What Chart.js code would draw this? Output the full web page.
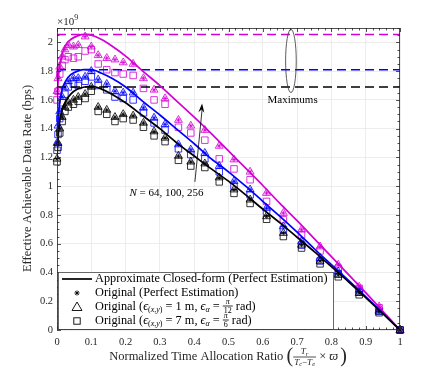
<!DOCTYPE html>
<html>
<head>
<meta charset="utf-8">
<script src="https://cdn.jsdelivr.net/npm/chart.js@4.4.0/dist/chart.umd.min.js"></script>
<style>
  html, body { margin: 0; padding: 0; background: #fff; }
</style>
</head>
<body>
<canvas id="rate" width="443" height="372"></canvas>
<script>
// axis ticks
const xTicks = [0, 0.1, 0.2, 0.3, 0.4, 0.5, 0.6, 0.7, 0.8, 0.9, 1];
const xTickLabels = ['0', '0.1', '0.2', '0.3', '0.4', '0.5', '0.6', '0.7', '0.8', '0.9', '1'];
const yTicks = [0, 0.2, 0.4, 0.6, 0.8, 1, 1.2, 1.4, 1.6, 1.8, 2];
const yTickLabels = ['0', '0.2', '0.4', '0.6', '0.8', '1', '1.2', '1.4', '1.6', '1.8', '2'];

// approximate closed-form curves (x 1e9 bps)
const curveX = [0, 0.003, 0.008, 0.015, 0.025, 0.04, 0.06, 0.08, 0.1, 0.13, 0.16, 0.2, 0.25, 0.3, 0.35, 0.4, 0.45, 0.5, 0.55, 0.6, 0.65, 0.7, 0.75, 0.8, 0.85, 0.9, 0.95, 1];
const blackCurve = [1.19, 1.33, 1.45, 1.53, 1.59, 1.64, 1.675, 1.69, 1.695, 1.675, 1.64, 1.58, 1.49, 1.40, 1.30, 1.21, 1.12, 1.035, 0.94, 0.84, 0.745, 0.645, 0.545, 0.44, 0.335, 0.225, 0.113, 0];
const blueCurve = [1.30, 1.46, 1.58, 1.67, 1.73, 1.775, 1.80, 1.81, 1.81, 1.785, 1.75, 1.69, 1.59, 1.495, 1.395, 1.295, 1.19, 1.10, 1.00, 0.895, 0.79, 0.68, 0.565, 0.455, 0.345, 0.232, 0.117, 0];
const magentaCurve = [1.55, 1.72, 1.84, 1.92, 1.98, 2.02, 2.045, 2.055, 2.05, 2.02, 1.975, 1.905, 1.80, 1.70, 1.59, 1.48, 1.365, 1.245, 1.125, 1.005, 0.88, 0.76, 0.635, 0.51, 0.385, 0.26, 0.13, 0];

// maximum of each curve (N = 64, 100, 256)
const maxValues = [1.69, 1.81, 2.055];

// simulated points
const markerX = [0, 0.003, 0.008, 0.015, 0.023, 0.033, 0.048, 0.062, 0.082, 0.1, 0.12, 0.145, 0.169, 0.193, 0.222, 0.252, 0.283, 0.315, 0.354, 0.39, 0.431, 0.473, 0.516, 0.563, 0.611, 0.66, 0.713, 0.767, 0.82, 0.881, 0.939, 1];
const blackTri = [1.19, 1.30, 1.40, 1.48, 1.55, 1.58, 1.60, 1.62, 1.64, 1.69, 1.55, 1.53, 1.48, 1.50, 1.49, 1.44, 1.38, 1.336, 1.21, 1.17, 1.157, 1.06, 0.976, 0.906, 0.79, 0.674, 0.592, 0.48, 0.383, 0.256, 0.128, 0];
const blackSq = [1.17, 1.27, 1.37, 1.45, 1.52, 1.55, 1.57, 1.59, 1.61, 1.66, 1.52, 1.50, 1.45, 1.47, 1.46, 1.41, 1.35, 1.31, 1.18, 1.14, 1.13, 1.03, 0.95, 0.88, 0.77, 0.65, 0.57, 0.46, 0.37, 0.245, 0.12, 0];
const blueTri = [1.30, 1.42, 1.52, 1.62, 1.69, 1.73, 1.75, 1.75, 1.76, 1.80, 1.74, 1.71, 1.66, 1.65, 1.65, 1.545, 1.475, 1.43, 1.29, 1.254, 1.23, 1.14, 1.034, 0.976, 0.848, 0.72, 0.615, 0.50, 0.406, 0.279, 0.139, 0];
const blueSq = [1.25, 1.36, 1.47, 1.58, 1.64, 1.69, 1.71, 1.70, 1.73, 1.76, 1.70, 1.67, 1.62, 1.61, 1.60, 1.51, 1.44, 1.39, 1.26, 1.22, 1.19, 1.10, 1.00, 0.94, 0.82, 0.70, 0.59, 0.48, 0.39, 0.265, 0.13, 0];
const magentaTri = [1.66, 1.75, 1.83, 1.90, 1.95, 1.98, 1.97, 1.98, 2.04, 1.97, 1.91, 1.89, 1.88, 1.86, 1.85, 1.75, 1.67, 1.61, 1.46, 1.42, 1.39, 1.28, 1.185, 1.10, 0.952, 0.813, 0.697, 0.58, 0.453, 0.30, 0.162, 0];
const magentaSq = [1.60, 1.66, 1.78, 1.84, 1.88, 1.90, 1.89, 1.90, 1.94, 1.95, 1.85, 1.81, 1.79, 1.78, 1.77, 1.68, 1.60, 1.57, 1.41, 1.37, 1.32, 1.19, 1.12, 1.045, 0.894, 0.767, 0.662, 0.55, 0.43, 0.29, 0.155, 0];
// perfect estimation points sit inside the triangles
const blackStar = blackTri;
const blueStar = blueTri;
const magentaStar = magentaTri;

const BLACK = '#000000';
const BLUE = '#0000ff';
const MAGENTA = '#d400d4';

function f(size, italic) {
    return (italic ? 'italic ' : '') + size + 'px "Liberation Serif", "DejaVu Serif", serif';
}

function pts(xs, ys) {
    return xs.map((x, i) => ({ x: x, y: ys[i] }));
}

function curve(ys, color) {
    return {
        data: pts(curveX, ys),
        showLine: true,
        borderColor: color,
        borderWidth: 1.7,
        pointRadius: 0,
        cubicInterpolationMode: 'monotone',
        fill: false
    };
}

function maxLine(v, color) {
    return {
        data: [{ x: 0, y: v }, { x: 1, y: v }],
        showLine: true,
        borderColor: color,
        borderWidth: 1.5,
        borderDash: [9, 5],
        pointRadius: 0,
        fill: false
    };
}

function marks(ys, color, style, r) {
    return {
        data: pts(markerX, ys),
        showLine: false,
        pointStyle: style,
        pointRadius: r,
        pointBorderWidth: 0.8,
        pointBorderColor: color,
        pointBackgroundColor: 'rgba(0,0,0,0)',
        clip: false
    };
}

function partsWidth(ctx, parts) {
    let w = 0;
    parts.forEach(p => { ctx.font = p[1]; w += ctx.measureText(p[0]).width; });
    return w;
}

function drawParts(ctx, x, y, parts) {
    parts.forEach(p => {
        ctx.font = p[1];
        ctx.fillText(p[0], x, y + (p[2] || 0));
        x += ctx.measureText(p[0]).width;
    });
    return x;
}

function fracWidth(ctx, num, den) {
    return Math.max(partsWidth(ctx, num), partsWidth(ctx, den)) + 2;
}

function drawFrac(ctx, x, yc, num, den, up, down) {
    const wn = partsWidth(ctx, num), wd = partsWidth(ctx, den);
    const w = Math.max(wn, wd) + 2;
    drawParts(ctx, x + (w - wn) / 2, yc - up, num);
    drawParts(ctx, x + (w - wd) / 2, yc + down, den);
    ctx.fillRect(x, yc - 0.4, w, 0.8);
    return x + w;
}

const decor = {
    id: 'decor',
    afterDatasetsDraw(chart) {
        const ctx = chart.ctx, xs = chart.scales.x, ys = chart.scales.y;
        ctx.save();
        ctx.fillStyle = '#000';
        ctx.strokeStyle = '#333';
        ctx.textBaseline = 'middle';

        // ellipse around the maximums
        const ex = xs.getPixelForValue(0.682), ey = ys.getPixelForValue(1.871);
        const rx = xs.getPixelForValue(0.682 + 0.0155) - ex;
        const ry = ey - ys.getPixelForValue(1.871 + 0.22);
        ctx.lineWidth = 0.8;
        ctx.beginPath();
        ctx.ellipse(ex, ey, rx, ry, 0, 0, Math.PI * 2);
        ctx.stroke();

        ctx.textAlign = 'center';
        ctx.font = f(11);
        ctx.fillText('Maximums', xs.getPixelForValue(0.687), ys.getPixelForValue(1.60));

        // arrow
        const x0 = xs.getPixelForValue(0.402), y0 = ys.getPixelForValue(1.03);
        const x1 = xs.getPixelForValue(0.423), y1 = ys.getPixelForValue(1.575);
        const cx = x0 + 4, cy = (y0 + y1) / 2;
        ctx.strokeStyle = '#000';
        ctx.lineWidth = 0.8;
        ctx.beginPath();
        ctx.moveTo(x0, y0);
        ctx.quadraticCurveTo(cx, cy, x1, y1 + 6);
        ctx.stroke();
        const ang = Math.atan2(y1 - cy, x1 - cx);
        ctx.beginPath();
        ctx.moveTo(x1, y1);
        ctx.lineTo(x1 - 9 * Math.cos(ang) + 3 * Math.sin(ang), y1 - 9 * Math.sin(ang) - 3 * Math.cos(ang));
        ctx.lineTo(x1 - 6 * Math.cos(ang), y1 - 6 * Math.sin(ang));
        ctx.lineTo(x1 - 9 * Math.cos(ang) - 3 * Math.sin(ang), y1 - 9 * Math.sin(ang) + 3 * Math.cos(ang));
        ctx.closePath();
        ctx.fill();

        // N label
        const nParts = [['N', f(11, true)], [' = 64, 100, 256', f(11)]];
        const nw = partsWidth(ctx, nParts);
        ctx.textAlign = 'left';
        drawParts(ctx, xs.getPixelForValue(0.319) - nw / 2, ys.getPixelForValue(0.955), nParts);
        ctx.restore();
    },
    afterDraw(chart) {
        const ctx = chart.ctx, a = chart.chartArea, xs = chart.scales.x, ys = chart.scales.y;
        ctx.save();
        ctx.strokeStyle = '#262626';
        ctx.lineWidth = 0.8;

        // minor and major ticks inside, all four sides
        ctx.beginPath();
        for (let v = 0; v <= 1.0001; v += 0.02) {
            const px = Math.round(xs.getPixelForValue(v)) + 0.5;
            const major = Math.abs(v * 10 - Math.round(v * 10)) < 1e-6;
            const len = major ? 4 : 2.5;
            ctx.moveTo(px, a.bottom); ctx.lineTo(px, a.bottom - len);
            ctx.moveTo(px, a.top); ctx.lineTo(px, a.top + len);
        }
        for (let v = 0; v <= 2.1001; v += 0.05) {
            const py = Math.round(ys.getPixelForValue(v)) + 0.5;
            const major = Math.abs(v * 5 - Math.round(v * 5)) < 1e-6;
            const len = major ? 4 : 2.5;
            ctx.moveTo(a.left, py); ctx.lineTo(a.left + len, py);
            ctx.moveTo(a.right, py); ctx.lineTo(a.right - len, py);
        }
        ctx.stroke();
        ctx.strokeRect(a.left + 0.5, a.top + 0.5, a.right - a.left - 1, a.bottom - a.top - 1);

        ctx.fillStyle = '#262626';
        ctx.textBaseline = 'middle';
        ctx.textAlign = 'left';

        // exponent
        drawParts(ctx, a.left, 22, [['×10', f(11)], ['9', f(8), -4]]);

        // y title
        ctx.save();
        ctx.translate(28, 178.5);
        ctx.rotate(-Math.PI / 2);
        ctx.textAlign = 'center';
        ctx.font = f(12.5);
        ctx.fillText('Effective Achievable Data Rate (bps)', 0, 0);
        ctx.restore();

        // x title with fraction
        const main = [['Normalized Time Allocation Ratio ', f(12.5)]];
        const lp = [['(', f(20)]];
        const num = [['T', f(9, true)], ['r', f(6.5, true), 2]];
        const den = [['T', f(9, true)], ['c', f(6.5, true), 2], ['−', f(9)], ['T', f(9, true)], ['e', f(6.5, true), 2]];
        const tail = [[' × ', f(12.5)], ['ϖ', f(12.5, true)]];
        const rp = [[')', f(20)]];
        const total = partsWidth(ctx, main) + partsWidth(ctx, lp) + fracWidth(ctx, num, den) + partsWidth(ctx, tail) + partsWidth(ctx, rp) + 2;
        const yx = 357;
        let x = 228 - total / 2;
        x = drawParts(ctx, x, yx, main);
        x = drawParts(ctx, x, yx, lp);
        x = drawFrac(ctx, x, yx, num, den, 5, 5.5);
        x = drawParts(ctx, x, yx, tail);
        x = drawParts(ctx, x + 2, yx, rp);

        // legend
        const lx = 58, ly = 272, lw = 275, lh = 57;
        ctx.fillStyle = '#fff';
        ctx.fillRect(lx, ly, lw, lh);
        ctx.strokeStyle = '#444';
        ctx.lineWidth = 0.8;
        ctx.strokeRect(lx + 0.5, ly + 0.5, lw, lh);

        const rows = [279, 293, 307, 321];
        const sx = 77, tx = 95;
        ctx.strokeStyle = '#000';
        ctx.fillStyle = '#000';
        ctx.lineWidth = 1.7;
        ctx.beginPath(); ctx.moveTo(62, rows[0]); ctx.lineTo(92, rows[0]); ctx.stroke();

        ctx.lineWidth = 0.9;
        ctx.beginPath();
        for (let k = 0; k < 4; k++) {
            const t = k * Math.PI / 4;
            ctx.moveTo(sx - 2.6 * Math.cos(t), rows[1] - 2.6 * Math.sin(t));
            ctx.lineTo(sx + 2.6 * Math.cos(t), rows[1] + 2.6 * Math.sin(t));
        }
        ctx.stroke();

        ctx.beginPath();
        ctx.moveTo(sx, rows[2] - 5);
        ctx.lineTo(sx + 5, rows[2] + 3.5);
        ctx.lineTo(sx - 5, rows[2] + 3.5);
        ctx.closePath();
        ctx.stroke();

        ctx.strokeRect(sx - 3.2, rows[3] - 3.2, 6.4, 6.4);

        ctx.fillStyle = '#000';
        drawParts(ctx, tx, rows[0], [['Approximate Closed-form (Perfect Estimation)', f(12.3)]]);
        drawParts(ctx, tx, rows[1], [['Original (Perfect Estimation)', f(12.3)]]);

        const errRow = (y, dist, numSym, denSym) => {
            let xx = drawParts(ctx, tx, y, [
                ['Original (', f(12.3)], ['ϵ', f(12.3, true)],
                ['(', f(8), 3], ['x', f(8, true), 3], [',', f(8), 3], ['y', f(8, true), 3], [')', f(8), 3],
                [' = ' + dist + ' m, ', f(12.3)], ['ϵ', f(12.3, true)], ['α', f(8, true), 3], [' = ', f(12.3)]
            ]);
            xx = drawFrac(ctx, xx, y - 1, [[numSym, f(8, true)]], [[denSym, f(8)]], 4, 4.5);
            drawParts(ctx, xx, y, [[' rad)', f(12.3)]]);
        };
        errRow(rows[2], '1', 'π', '12');
        errRow(rows[3], '7', 'π', '6');
        ctx.restore();
    }
};

new Chart(document.getElementById('rate').getContext('2d'), {
    type: 'scatter',
    data: {
        datasets: [
            curve(blackCurve, BLACK),
            curve(blueCurve, BLUE),
            curve(magentaCurve, MAGENTA),
            maxLine(maxValues[0], BLACK),
            maxLine(maxValues[1], BLUE),
            maxLine(maxValues[2], MAGENTA),
            marks(blackStar, BLACK, 'star', 2.4),
            marks(blueStar, BLUE, 'star', 2.4),
            marks(magentaStar, MAGENTA, 'star', 2.4),
            marks(blackTri, BLACK, 'triangle', 4.6),
            marks(blueTri, BLUE, 'triangle', 4.6),
            marks(magentaTri, MAGENTA, 'triangle', 4.6),
            marks(blackSq, BLACK, 'rect', 4.6),
            marks(blueSq, BLUE, 'rect', 4.6),
            marks(magentaSq, MAGENTA, 'rect', 4.6)
        ]
    },
    options: {
        responsive: false,
        animation: false,
        events: [],
        layout: {
            padding: { left: 0, right: 43, top: 28, bottom: 0 }
        },
        plugins: {
            legend: { display: false },
            tooltip: { enabled: false }
        },
        scales: {
            x: {
                type: 'linear',
                min: 0,
                max: 1,
                afterBuildTicks: (s) => { s.ticks = xTicks.map(v => ({ value: v })); },
                afterFit: (s) => { s.height = 42; },
                ticks: {
                    callback: (v, i) => xTickLabels[i],
                    font: { family: '"Liberation Serif", serif', size: 10.5 },
                    color: '#262626',
                    padding: 6,
                    maxRotation: 0,
                    autoSkip: false
                },
                grid: { color: '#e8e8e8', lineWidth: 0.8, drawTicks: false },
                border: { display: false }
            },
            y: {
                type: 'linear',
                min: 0,
                max: 2.1,
                afterBuildTicks: (s) => { s.ticks = yTicks.map(v => ({ value: v })); },
                afterFit: (s) => { s.width = 57; },
                ticks: {
                    callback: (v, i) => yTickLabels[i],
                    font: { family: '"Liberation Serif", serif', size: 10.5 },
                    color: '#262626',
                    padding: 4,
                    autoSkip: false
                },
                grid: { color: '#e8e8e8', lineWidth: 0.8, drawTicks: false },
                border: { display: false }
            }
        }
    },
    plugins: [decor]
});
</script>
</body>
</html>
